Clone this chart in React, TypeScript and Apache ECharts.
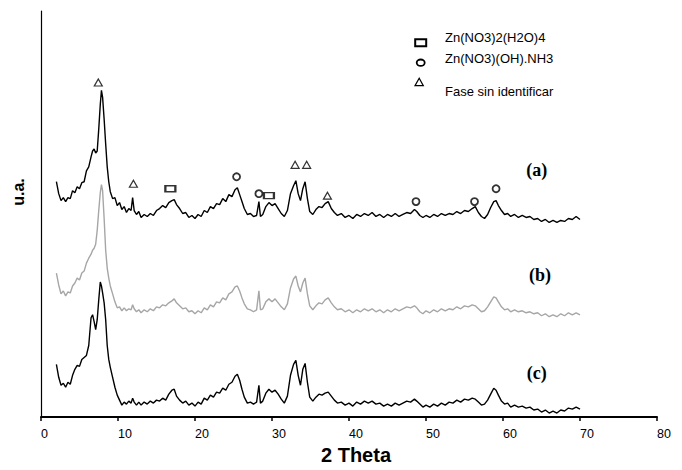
import React, { useEffect, useRef } from "react";
import * as echarts from "echarts";

// 2-theta grid (degrees)
const theta = [
  2.0, 2.3, 2.6, 2.9, 3.2, 3.5, 3.8, 4.1, 4.4, 4.7,
  5.0, 5.3, 5.6, 5.9, 6.2, 6.5, 6.7, 6.9, 7.1, 7.3,
  7.5, 7.7, 7.85, 8.0, 8.2, 8.4, 8.6, 8.8, 9.0, 9.3,
  9.6, 9.9, 10.2, 10.5, 10.8, 11.1, 11.4, 11.7, 11.9, 12.1,
  12.4, 12.7, 13.0, 13.4, 13.8, 14.2, 14.6, 15.0, 15.4, 15.8,
  16.2, 16.6, 17.0, 17.3, 17.6, 18.0, 18.4, 18.8, 19.2, 19.6,
  20.0, 20.4, 20.8, 21.2, 21.6, 22.0, 22.4, 22.8, 23.2, 23.6,
  24.0, 24.4, 24.8, 25.2, 25.5, 25.8, 26.1, 26.4, 26.8, 27.2,
  27.6, 28.0, 28.3, 28.5, 28.8, 29.2, 29.6, 30.0, 30.4, 30.8,
  31.2, 31.6, 32.0, 32.4, 32.8, 33.1, 33.4, 33.7, 34.0, 34.3,
  34.6, 34.9, 35.3, 35.7, 36.1, 36.5, 36.9, 37.3, 37.7, 38.1,
  38.5, 39.0, 39.5, 40.0, 40.5, 41.0, 41.5, 42.0, 42.5, 43.0,
  43.5, 44.0, 44.5, 45.0, 45.5, 46.0, 46.5, 47.0, 47.5, 48.0,
  48.5, 48.8, 49.2, 49.6, 50.0, 50.5, 51.0, 51.5, 52.0, 52.5,
  53.0, 53.5, 54.0, 54.5, 55.0, 55.5, 56.0, 56.4, 56.8, 57.2,
  57.6, 58.0, 58.4, 58.8, 59.1, 59.4, 59.8, 60.2, 60.6, 61.0,
  61.5, 62.0, 62.5, 63.0, 63.5, 64.0, 64.5, 65.0, 65.5, 66.0,
  66.5, 67.0, 67.5, 68.0, 68.5, 69.0, 69.5, 70.0,
];

// trace (a), offset intensity (u.a.)
const traceA = [
  237, 225, 218, 221, 217, 221, 220, 228, 226, 232,
  230, 236, 237, 248, 252, 262, 268, 270, 266, 268,
  290, 315, 329, 322, 300, 275, 252, 237, 227, 220,
  221, 213, 216, 209, 212, 206, 210, 208, 221, 208,
  204, 207, 201, 204, 202, 205, 203, 208, 210, 213,
  211, 216, 218, 219, 214, 210, 205, 206, 201, 203,
  200, 204, 202, 208, 206, 212, 210, 215, 214, 220,
  217, 224, 222, 229, 231, 224, 217, 210, 204, 205,
  202, 203, 217, 202, 204, 212, 216, 213, 215, 210,
  205, 202, 208, 225, 233, 238, 225, 218, 230, 237,
  220, 207, 204, 209, 212, 211, 215, 217, 210, 206,
  203, 205, 201, 203, 200, 204, 202, 205, 203, 206,
  202, 204, 201, 204, 202, 205, 202, 204, 206, 205,
  209, 207, 203, 201, 203, 201, 204, 202, 205, 203,
  205, 204, 207, 205, 208, 207, 210, 212, 206, 202,
  200, 204, 211, 217, 218, 213, 208, 204, 205, 202,
  204, 201, 203, 201, 202, 199, 200, 197, 199, 196,
  198, 196, 198, 197, 200, 199, 202, 199,
];

// trace (b)
const traceB = [
  145, 133, 124, 127, 122, 126, 125, 132, 135, 140,
  138, 145, 147, 155, 160, 164, 168, 170, 174, 188,
  208, 226, 234, 228, 200, 168, 150, 140, 132, 124,
  116, 110, 111, 107, 110, 107, 109, 108, 113, 109,
  106, 108, 105, 108, 106, 109, 107, 111, 110, 113,
  112, 115, 117, 119, 115, 112, 109, 110, 106, 107,
  104, 107, 105, 110, 108, 113, 111, 116, 115, 120,
  118, 124, 126, 131, 132, 127, 120, 114, 109, 108,
  106, 108, 127, 108, 109, 116, 119, 116, 119, 115,
  111, 108, 114, 130, 139, 142, 132, 126, 135, 140,
  124, 112, 108, 112, 115, 114, 118, 120, 115, 111,
  108, 109, 106, 108, 105, 108, 106, 109, 107, 109,
  106, 108, 105, 108, 106, 109, 107, 109, 111, 110,
  112, 110, 106, 104, 107, 105, 108, 106, 109, 107,
  109, 108, 111, 109, 112, 111, 113, 112, 109, 106,
  107, 111, 116, 121, 120, 116, 111, 108, 109, 106,
  108, 106, 107, 105, 106, 104, 105, 102, 104, 101,
  103, 101, 104, 102, 105, 103, 105, 103,
];

// trace (c)
const traceC = [
  53, 40, 32, 34, 30, 35, 33, 42, 48, 52,
  51, 58, 60, 62, 72, 100, 103, 96, 88, 98,
  118, 136, 132, 125, 115, 98, 72, 58, 50, 40,
  30, 22, 17, 12, 15, 13, 16, 14, 19, 15,
  12, 15, 12, 15, 13, 16, 14, 17, 16, 19,
  17, 23, 27, 28, 21, 17, 14, 16, 12, 14,
  11, 15, 13, 19, 17, 22, 20, 25, 24, 29,
  27, 33, 35, 41, 43, 37, 28, 20, 14, 15,
  13, 15, 32, 14, 16, 24, 28, 25, 27, 23,
  18, 14, 21, 42, 53, 57, 42, 32, 48, 54,
  35, 20, 16, 20, 23, 22, 24, 25, 21, 17,
  14, 15, 12, 14, 11, 15, 13, 16, 14, 16,
  13, 14, 11, 13, 11, 14, 12, 14, 16, 15,
  18, 16, 13, 10, 12, 10, 13, 11, 14, 12,
  15, 14, 17, 15, 18, 17, 19, 18, 15, 12,
  13, 17, 23, 29, 27, 22, 16, 13, 14, 10,
  12, 10, 11, 9, 10, 7, 8, 5, 7, 4,
  6, 4, 7, 6, 9, 8, 10, 8,
];

// phase markers over trace (a): [2theta, height]
const triangleMarks = [[7.44, 337], [12.0, 235], [33.0, 254], [34.5, 254], [37.2, 223]];
const squareMarks = [[16.8, 230], [29.6, 223]];
const circleMarks = [[25.4, 242], [28.3, 225], [48.7, 217], [56.3, 217], [59.1, 230]];

const legendNames = ["Zn(NO3)2(H2O)4", "Zn(NO3)(OH).NH3", "Fase sin identificar"];
const traceLabels = ["(a)", "(b)", "(c)"];

const X_MIN = 0;
const X_MAX = 80;
const X_INTERVAL = 10;

export default function App() {
  const ref = useRef<HTMLDivElement>(null);

  useEffect(() => {
    if (!ref.current) return;
    const chart = echarts.init(ref.current, null, { renderer: "svg" });
    const pairs = (ys: number[]) => theta.map((t, i) => [t, ys[i]]);
    const line = (name: string, ys: number[], color: string) => ({
      type: "line",
      name,
      data: pairs(ys),
      symbol: "none",
      showSymbol: false,
      lineStyle: { color, width: 1.4 },
      z: 2,
      silent: true,
    });
    const marker = (name: string, data: number[][], symbol: string, size: number[], bw: number) => ({
      type: "scatter",
      name,
      data,
      symbol,
      symbolSize: size,
      itemStyle: { color: "#fff", borderColor: "#000", borderWidth: bw },
      z: 3,
      silent: true,
    });
    const sans = '"Liberation Sans", Arial, sans-serif';
    const serif = '"Liberation Serif", "Times New Roman", serif';

    chart.setOption({
      animation: false,
      backgroundColor: "#fff",
      grid: { left: 41, right: 25, top: 11, bottom: 50 },
      xAxis: {
        type: "value",
        min: X_MIN,
        max: X_MAX,
        interval: X_INTERVAL,
        name: "2 Theta",
        nameLocation: "middle",
        nameGap: 28,
        nameTextStyle: {
          fontFamily: sans,
          fontSize: 20,
          fontWeight: "bold",
          color: "#000",
          padding: [0, 0, 0, 14],
        },
        axisLine: { show: true, onZero: false, lineStyle: { color: "#000", width: 2 } },
        axisTick: { show: true, inside: false, length: 4, lineStyle: { color: "#000", width: 1.5 } },
        axisLabel: {
          color: "#000",
          fontFamily: sans,
          fontSize: 12.5,
          margin: 10,
          align: "left",
        },
        splitLine: { show: false },
      },
      yAxis: {
        type: "value",
        min: 0,
        max: 409,
        name: "u.a.",
        nameLocation: "middle",
        nameRotate: 90,
        nameGap: 15,
        nameTextStyle: {
          fontFamily: sans,
          fontSize: 16,
          fontWeight: "bold",
          color: "#000",
          padding: [0, 0, 0, 44],
        },
        axisLine: { show: true, lineStyle: { color: "#000", width: 1.2 } },
        axisTick: { show: false },
        axisLabel: { show: false },
        splitLine: { show: false },
      },
      series: [
        line("(b)", traceB, "#a6a6a6"),
        line("(c)", traceC, "#000"),
        line("(a)", traceA, "#000"),
        marker(legendNames[0], squareMarks, "rect", [10, 6], 1.8),
        marker(legendNames[1], circleMarks, "circle", [7, 7], 1.8),
        marker(legendNames[2], triangleMarks, "triangle", [8, 7], 1.2),
      ],
      graphic: [
        { type: "rect", shape: { x: 415.2, y: 39.2, width: 11, height: 7 }, style: { fill: "#fff", stroke: "#000", lineWidth: 2 } },
        { type: "ellipse", shape: { cx: 420.7, cy: 62.7, rx: 4, ry: 3.2 }, style: { fill: "#fff", stroke: "#000", lineWidth: 1.8 } },
        { type: "polygon", shape: { points: [[415, 85.7], [423.3, 85.7], [419.2, 78.3]] }, style: { fill: "#fff", stroke: "#000", lineWidth: 1.2 } },
        { type: "text", x: 445, y: 37.5, style: { text: legendNames[0], font: `13px ${sans}`, fill: "#000", verticalAlign: "middle" } },
        { type: "text", x: 445, y: 58, style: { text: legendNames[1], font: `13px ${sans}`, fill: "#000", verticalAlign: "middle" } },
        { type: "text", x: 445, y: 91.7, style: { text: legendNames[2], font: `13px ${sans}`, fill: "#000", verticalAlign: "middle" } },
        { type: "text", x: 536.7, y: 170, style: { text: traceLabels[0], font: `bold 18px ${serif}`, fill: "#000", align: "center", verticalAlign: "middle" } },
        { type: "text", x: 540, y: 275, style: { text: traceLabels[1], font: `bold 18px ${serif}`, fill: "#000", align: "center", verticalAlign: "middle" } },
        { type: "text", x: 536.7, y: 373, style: { text: traceLabels[2], font: `bold 18px ${serif}`, fill: "#000", align: "center", verticalAlign: "middle" } },
      ],
    });
    return () => chart.dispose();
  }, []);

  return (
    <div
      ref={ref}
      style={{ position: "absolute", left: 0, top: 0, width: 682, height: 470 }}
    />
  );
}
